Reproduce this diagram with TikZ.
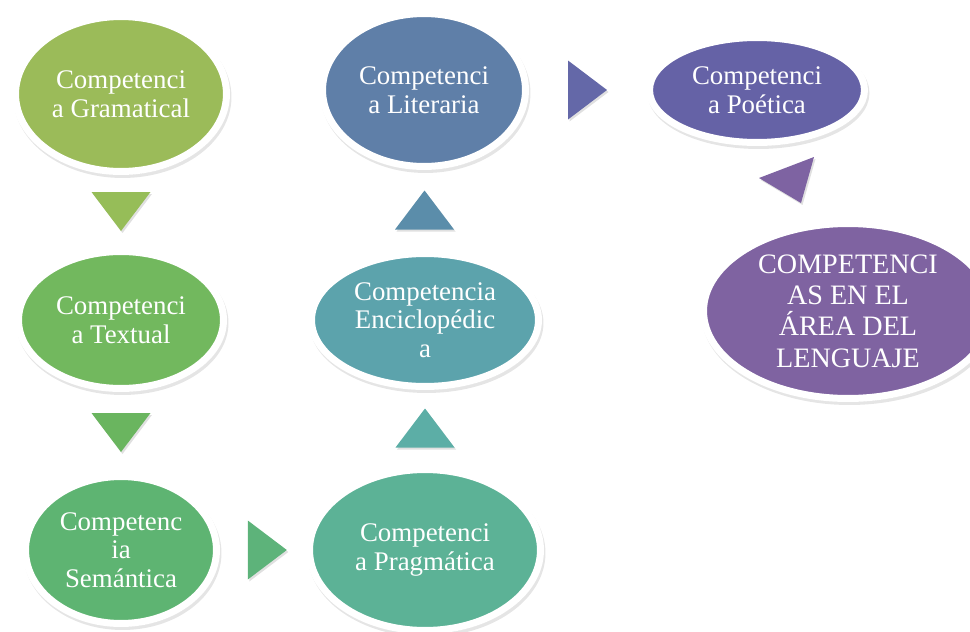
\documentclass[tikz,border=0pt]{standalone}
\usepackage{fontspec}
\setmainfont{Liberation Serif}
\usetikzlibrary{shapes,calc}
\definecolor{cGram}{RGB}{155,187,89}
\definecolor{cTa}{RGB}{150,189,88}
\definecolor{cText}{RGB}{114,184,94}
\definecolor{cTb}{RGB}{106,181,95}
\definecolor{cSem}{RGB}{94,180,114}
\definecolor{cTc}{RGB}{93,179,122}
\definecolor{cPrag}{RGB}{92,178,150}
\definecolor{cTd}{RGB}{92,174,166}
\definecolor{cEnc}{RGB}{92,163,172}
\definecolor{cTe}{RGB}{91,141,170}
\definecolor{cLit}{RGB}{95,127,168}
\definecolor{cTf}{RGB}{100,104,168}
\definecolor{cPoet}{RGB}{101,98,166}
\definecolor{cTg}{RGB}{126,99,162}
\definecolor{cLeng}{RGB}{127,99,161}
\tikzset{
        compnode/.style={align=center,inner sep=0pt,ellipse,text=white},
        % Competence nodes
        node_comp/.style={compnode, draw=white, line width=0.14cm,
            font=\fontsize{15.3}{16.2}\selectfont,
            preaction={draw=black, fill=black, opacity=0.1, transform canvas={xshift=0.03cm, yshift=-0.06cm}}},
        % Main node
        node_main/.style={node_comp, font=\fontsize{16}{17.8}\selectfont},
        % Triangle arrows
        tri_fill/.style={preaction={fill=black, opacity=0.12, transform canvas={xshift=0.03cm, yshift=-0.04cm}}},
        tri/.pic={
            \fill[tri_fill] (-19.5,-29.5) -- (-19.5,29.5) -- (19.5,0) -- cycle;
        }
}

\begin{document}
\begin{tikzpicture}[x=0.02cm, y=-0.02cm]
    \useasboundingbox (0,0) rectangle (970,632);
    \node[node_comp, fill=cGram, minimum width=4.22cm, minimum height=3.10cm] (gram) at (121,94) {Competenci\\a Gramatical};
    \node[node_comp, fill=cText, minimum width=4.10cm, minimum height=2.74cm] (textual) at (121,320) {Competenci\\a Textual};
    \node[node_comp, fill=cSem, minimum width=3.82cm, minimum height=2.94cm] (sem) at (121,550) {Competenc\\ia\\Semántica};
    \node[node_comp, fill=cPrag, minimum width=4.62cm, minimum height=3.22cm] (prag) at (425,550) {Competenci\\a Pragmática};
    \node[node_comp, fill=cEnc, minimum width=4.54cm, minimum height=2.66cm] (enc) at (425,320) {Competencia\\Enciclopédic\\a};
    \node[node_comp, fill=cLit, minimum width=4.06cm, minimum height=3.06cm] (lit) at (424,90) {Competenci\\a Literaria};
    \node[node_comp, fill=cPoet, minimum width=4.30cm, minimum height=2.10cm] (poet) at (757,90) {Competenci\\a Poética};
    \node[node_main, fill=cLeng, minimum width=5.78cm, minimum height=3.50cm] (leng) at (848,311) {COMPETENCI\\AS EN EL\\ÁREA DEL\\LENGUAJE};

    \path ($(gram.south)!0.5!(textual.north)$) pic[rotate=-90, fill=cTa] {tri};
    \path ($(textual.south)!0.5!(sem.north)$) pic[rotate=-90, fill=cTb] {tri};
    \path ($(sem.east)!0.55!(prag.west)$) pic[fill=cTc] {tri};
    \path ($(prag.north)!0.5!(enc.south)$) pic[rotate=90, fill=cTd] {tri};
    \path ($(enc.north)!0.5!(lit.south)$) pic[rotate=90, fill=cTe] {tri};
    \path ($(lit.east)!0.5!(poet.west)$) pic[fill=cTf] {tri};
    \coordinate (tg) at (791,179);
    \fill[tri_fill, cTg] ($(tg)+(-32,-1)$) -- ($(tg)+(23,-22)$) -- ($(tg)+(10,24)$) -- cycle;
\end{tikzpicture}
\end{document}
